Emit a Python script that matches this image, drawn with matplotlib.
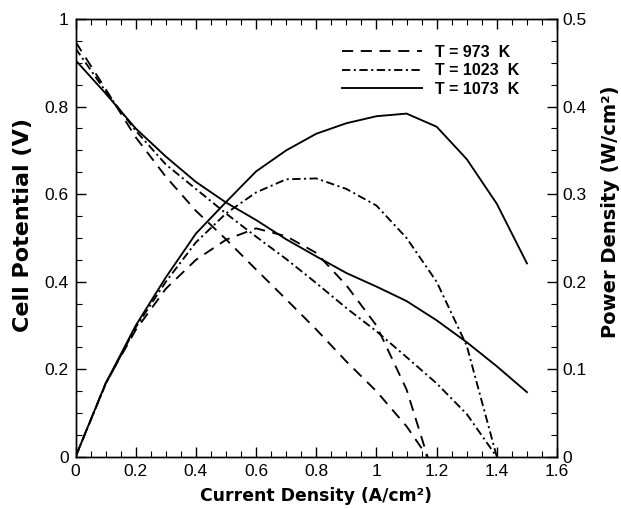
import matplotlib
matplotlib.use("Agg")
import matplotlib.pyplot as plt
from matplotlib.ticker import MultipleLocator, FuncFormatter
from matplotlib.lines import Line2D

plt.rcParams['font.family'] = ['Liberation Sans', 'DejaVu Sans']
plt.rcParams['lines.scale_dashes'] = False

# Current density (A/cm2)
i_973 = [0, 0.1, 0.2, 0.3, 0.4, 0.5, 0.6, 0.7, 0.8, 0.9, 1.0, 1.1, 1.17]
i_1023 = [0, 0.1, 0.2, 0.3, 0.4, 0.5, 0.6, 0.7, 0.8, 0.9, 1.0, 1.1, 1.2, 1.3, 1.4]
i_1073 = [0, 0.1, 0.2, 0.3, 0.4, 0.5, 0.6, 0.7, 0.8, 0.9, 1.0, 1.1, 1.2, 1.3, 1.4, 1.5]

# Cell potential (V)
v_973 = [0.948, 0.84, 0.73, 0.64, 0.562, 0.497, 0.428, 0.36, 0.291, 0.218, 0.15, 0.07, 0.0]
v_1023 = [0.933, 0.835, 0.745, 0.668, 0.612, 0.556, 0.503, 0.452, 0.397, 0.34, 0.287,
          0.228, 0.168, 0.098, 0.0]
v_1073 = [0.906, 0.83, 0.75, 0.686, 0.628, 0.581, 0.541, 0.497, 0.458, 0.42, 0.389,
          0.356, 0.312, 0.262, 0.207, 0.148]

# Power density (W/cm2)
p_973 = [0, 0.084, 0.145, 0.192, 0.225, 0.248, 0.261, 0.252, 0.233, 0.196, 0.15, 0.077, 0.0]
p_1023 = [0, 0.083, 0.148, 0.2, 0.245, 0.278, 0.302, 0.317, 0.318, 0.306, 0.287,
          0.25, 0.2, 0.127, 0.0]
p_1073 = [0, 0.084, 0.15, 0.205, 0.255, 0.291, 0.326, 0.35, 0.369, 0.381, 0.389,
          0.392, 0.377, 0.34, 0.289, 0.221]

labels = ["T = 973  K", "T = 1023  K", "T = 1073  K"]

dash = (0, (8, 5.5))
dashdot = (0, (6, 2.5, 1.5, 2.5))
solid = '-'
lw = 1.35

fig = plt.figure(figsize=(6.21, 5.09), dpi=100)
ax = fig.add_axes([0.1216, 0.1022, 0.7754, 0.8605])
ax2 = ax.twinx()

ax.plot(i_973, v_973, color='black', lw=lw, linestyle=dash)
ax.plot(i_1023, v_1023, color='black', lw=lw, linestyle=dashdot)
ax.plot(i_1073, v_1073, color='black', lw=lw, linestyle=solid)

ax2.plot(i_973, p_973, color='black', lw=lw, linestyle=dash)
ax2.plot(i_1023, p_1023, color='black', lw=lw, linestyle=dashdot)
ax2.plot(i_1073, p_1073, color='black', lw=lw, linestyle=solid)

ax.set_xlim(0, 1.6)
ax.set_ylim(0, 1)
ax2.set_ylim(0, 0.5)

fmt = FuncFormatter(lambda v, p: ('%g' % round(v, 3)))
ax.xaxis.set_major_locator(MultipleLocator(0.2))
ax.xaxis.set_minor_locator(MultipleLocator(0.05))
ax.yaxis.set_major_locator(MultipleLocator(0.2))
ax.yaxis.set_minor_locator(MultipleLocator(0.05))
ax2.yaxis.set_major_locator(MultipleLocator(0.1))
ax2.yaxis.set_minor_locator(MultipleLocator(0.025))
ax.xaxis.set_major_formatter(fmt)
ax.yaxis.set_major_formatter(fmt)
ax2.yaxis.set_major_formatter(fmt)

ax.tick_params(axis='x', which='both', direction='in', top=True, bottom=True)
ax.tick_params(axis='y', which='both', direction='in', left=True, right=False)
ax2.tick_params(axis='y', which='both', direction='in', right=True, left=False)
for a in (ax, ax2):
    a.tick_params(which='major', length=7, width=1, labelsize=12.5)
    a.tick_params(which='minor', length=4, width=0.8)
    for s in a.spines.values():
        s.set_linewidth(1.0)
ax.tick_params(axis='x', which='major', pad=5)
ax.tick_params(axis='y', which='major', pad=5)
ax2.tick_params(axis='y', which='major', pad=4)

lab_font = ['DejaVu Sans']
ax.set_xlabel("Current Density (A/cm²)", fontsize=12.4, fontweight='bold',
              family=lab_font, labelpad=6)
ax.set_ylabel("Cell Potential (V)", fontsize=16, fontweight='bold',
              family=lab_font, labelpad=8, y=0.53)
ax2.set_ylabel("Power Density (W/cm²)", fontsize=14, fontweight='bold',
               family=lab_font, labelpad=10, y=0.56)

handles = [Line2D([], [], color='black', lw=lw, linestyle=dash),
           Line2D([], [], color='black', lw=lw, linestyle=dashdot),
           Line2D([], [], color='black', lw=lw, linestyle=solid)]
leg = ax2.legend(handles, labels, loc='center left', bbox_to_anchor=(0.553, 0.882),
                 frameon=False, borderpad=0, borderaxespad=0, handlelength=5.0,
                 handletextpad=0.85, labelspacing=0.22,
                 prop={'weight': 'bold', 'size': 11.5})

fig.savefig("out.png", dpi=100)
